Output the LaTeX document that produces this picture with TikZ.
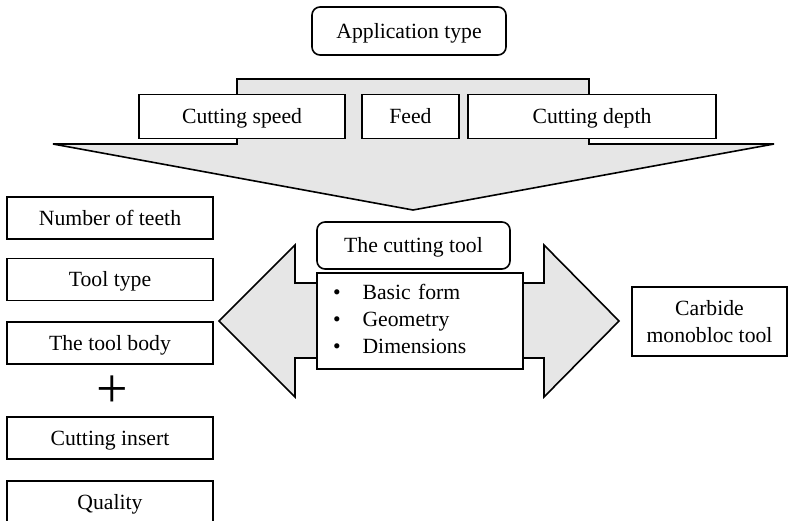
\documentclass[tikz,border=0pt]{standalone}
\usepackage{fontspec}
\setmainfont{Liberation Serif}
\definecolor{shade}{HTML}{E6E6E6}
\begin{document}
\begin{tikzpicture}[x=1pt,y=-1pt,
  box/.style={draw, line width=1.6pt, fill=white, inner sep=0pt, align=center,
    font=\fontsize{21.7}{27}\selectfont},
  oneline/.style={box, text height=14.5pt, text depth=0pt},
  rbox/.style={oneline, rounded corners=8pt},
  lbox/.style={oneline, minimum width=206pt, minimum height=42pt},
  bigshape/.style={draw, line width=1.6pt, fill=shade, line join=miter}]
\useasboundingbox (0,0) rectangle (788,520);
% funnel
\draw[bigshape] (237,79) -- (589,79) -- (589,144) -- (774,144) -- (413,210)
  -- (53,144) -- (237,144) -- cycle;
% double arrow
\draw[bigshape] (219,321) -- (295,245) -- (295,283) -- (544,283) -- (544,245)
  -- (619,321) -- (544,397) -- (544,358) -- (295,358) -- (295,397) -- cycle;
% top
\node[rbox, minimum width=194pt, minimum height=48pt] (app) at (409,31) {Application type};
\node[oneline, minimum width=206pt, minimum height=44pt] (speed) at (242,116.5) {Cutting speed};
\node[oneline, minimum width=97pt, minimum height=44pt] (feed) at (410.5,116.5) {Feed};
\node[oneline, minimum width=248pt, minimum height=44pt] (depth) at (592,116.5) {Cutting depth};
% centre
\node[rbox, minimum width=193pt, minimum height=47pt] (tool) at (413.5,245.5) {The cutting tool};
\node[box, text width=174pt, inner xsep=16pt, minimum height=96pt, align=left] (feat) at (420,321)
  {\begin{tabular}{@{}l@{\hspace{22pt}}l@{}}\textbullet & Basic form\\ \textbullet & Geometry\\ \textbullet & Dimensions\end{tabular}};
% right
\node[box, minimum width=155pt, minimum height=69pt] (carb) at (709.5,321.5) {Carbide\\monobloc tool};
% left column
\node[lbox] (teeth) at (110,218) {Number of teeth};
\node[lbox] (type) at (110,279.5) {Tool type};
\node[lbox] (body) at (110,343) {The tool body};
\node[inner sep=0pt, font=\fontsize{56}{56}\selectfont] (plus) at (112,392) {+};
\node[lbox] (insert) at (110,438) {Cutting insert};
\node[lbox] (quality) at (110,502) {Quality};
\end{tikzpicture}
\end{document}
